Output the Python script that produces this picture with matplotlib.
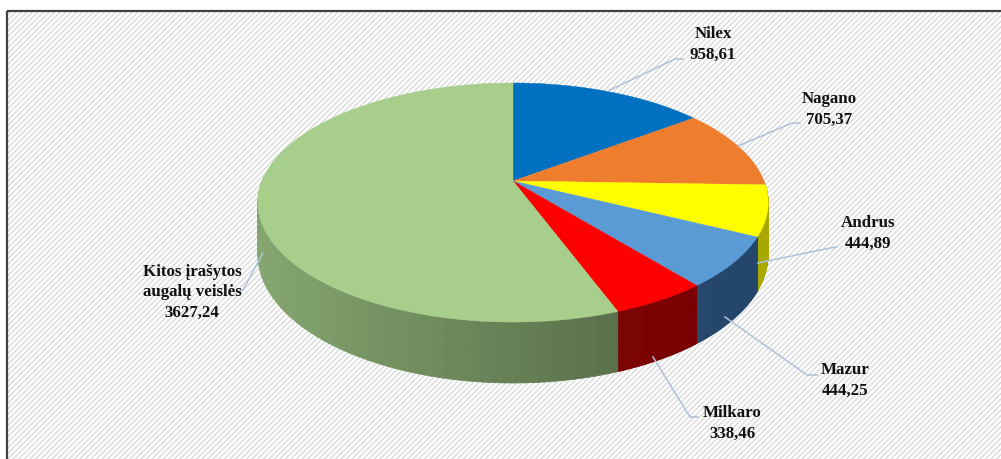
import numpy as np
import matplotlib
matplotlib.use("Agg")
import matplotlib.pyplot as plt
from matplotlib.patches import Polygon, Rectangle

names = ["Nilex", "Nagano", "Andrus", "Mazur", "Milkaro", "Kitos įrašytos\naugalų veislės"]
values = [958.61, 705.37, 444.89, 444.25, 338.46, 3627.24]
value_labels = ["958,61", "705,37", "444,89", "444,25", "338,46", "3627,24"]
top_colors = ["#0070C0", "#EE7D2E", "#FFFF00", "#5B9BD5", "#FF0000", "#A7CF8B"]
side_colors = ["#004A80", "#9C5220", "#A8A800", "#24466A", "#7A0000", "#6E8A5C"]

W, H = 1001, 459
CX, CY, R, A, C, D = 513, 181, 251, 83.1, -0.18, 50

def project(theta, drop=0.0):
    u, v = np.sin(theta), -np.cos(theta)
    den = 1 + C * v
    return CX + R * u / den, (CY + A * v + drop) / den

plt.rcParams["hatch.linewidth"] = 1.0
fig = plt.figure(figsize=(W / 100, H / 100), dpi=100)
ax = fig.add_axes([0, 0, 1, 1])
ax.set_xlim(0, W)
ax.set_ylim(H, 0)
ax.axis("off")
ax.add_patch(Rectangle((7, 11), 1020, 470, facecolor="white", edgecolor="#DADADA", hatch="//////", lw=0))
ax.add_patch(Rectangle((7, 11), 1020, 470, fill=False, edgecolor="#404040", lw=1.6))

frac = np.cumsum([0] + values) / sum(values) * 2 * np.pi

# side wall, segment by segment with cylinder shading
for i in [2, 3, 4, 5]:
    th = np.linspace(frac[i], frac[i + 1], 90)
    base = np.array(matplotlib.colors.to_rgb(side_colors[i]))
    for a, b in zip(th[:-1], th[1:]):
        if np.cos((a + b) / 2) > 0.02:
            continue
        xa, ya = project(a); xb, yb = project(b)
        xc, yc = project(b, D); xd, yd = project(a, D)
        if i == 5:
            shade = 1.2 - 0.38 * (xa - 260) / 357
        else:
            shade = 1.0
        col = np.clip(base * shade, 0, 1)
        ax.add_patch(Polygon([(xa, ya), (xb, yb), (xc, yc), (xd, yd)],
                             facecolor=col, edgecolor=col, lw=0.5))

# top face
for i in range(6):
    th = np.linspace(frac[i], frac[i + 1], 120)
    x, y = project(th)
    ax.add_patch(Polygon(np.r_[[(CX, CY)], np.c_[x, y]], facecolor=top_colors[i],
                         edgecolor=top_colors[i], lw=0.3))

leaders = [
    [(608, 91), (675, 59), (683, 59)],
    [(738, 146), (792, 123), (800, 123)],
    [(758, 263), (830, 248), (837, 247)],
    [(725, 317), (807, 375), (817, 375)],
    [(653, 357), (690, 417), (698, 417)],
    [(263, 253), (243, 290), (241, 290)],
]
for pts in leaders:
    p = np.array(pts)
    ax.plot(p[:, 0], p[:, 1], color="#AFC0D8", lw=1.1)

label_xy = [(713, 44.5), (829, 109.5), (868, 233.5), (845, 380.5), (732, 423.5), (192, 292.5)]
for n, v, (x, y) in zip(names, value_labels, label_xy):
    ax.text(x, y, n + "\n" + v, ha="center", va="center", family="Liberation Serif",
            fontweight="bold", fontsize=12.2, color="#111111", linespacing=1.36)

fig.savefig("out.png", dpi=100)
